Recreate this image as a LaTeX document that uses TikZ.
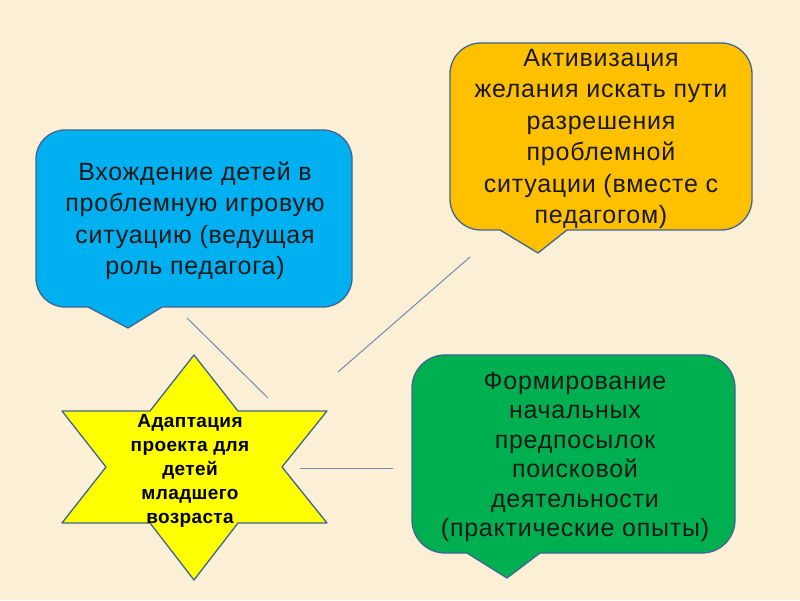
\documentclass[tikz,border=0pt]{standalone}
\usepackage{fontspec}
\setmainfont{Liberation Sans}
\definecolor{bgc}{RGB}{251,240,214}
\definecolor{bluef}{RGB}{0,176,240}
\definecolor{orangef}{RGB}{255,192,0}
\definecolor{greenf}{RGB}{0,176,80}
\definecolor{yellowf}{RGB}{255,255,0}
\definecolor{edgec}{RGB}{65,100,145}
\definecolor{linec}{RGB}{112,140,178}
\begin{document}
\begin{tikzpicture}[x=1pt,y=1pt,
  box/.style={draw=edgec,line width=1.3pt,line join=round},
  conn/.style={draw=linec,line width=1pt},
  bigtext/.style={align=center,font=\fontsize{25}{31.5}\selectfont\addfontfeature{LetterSpace=3},text=black!90,inner sep=0pt},
  greentext/.style={bigtext,font=\fontsize{25}{29.5}\selectfont\addfontfeature{LetterSpace=3}},
  startext/.style={align=center,font=\fontsize{19}{24}\selectfont\bfseries\addfontfeature{LetterSpace=2},text=black,inner sep=0pt}]
\fill[bgc] (0,0) rectangle (800,600);
\useasboundingbox (0,0) rectangle (800,600);
% blue callout
\draw[box,fill=bluef] (65,470) -- (323,470) arc[start angle=90,end angle=0,radius=29] -- (352,322) arc[start angle=0,end angle=-90,radius=29] -- (162,293) -- (128,272) -- (88,293) -- (65,293) arc[start angle=270,end angle=180,radius=29] -- (36,441) arc[start angle=180,end angle=90,radius=29] -- cycle;
% orange callout
\draw[box,fill=orangef] (481,557) -- (721,557) arc[start angle=90,end angle=0,radius=31] -- (752,401) arc[start angle=0,end angle=-90,radius=31] -- (567,370) -- (538,347) -- (500,370) -- (481,370) arc[start angle=270,end angle=180,radius=31] -- (450,526) arc[start angle=180,end angle=90,radius=31] -- cycle;
% green callout
\draw[box,fill=greenf] (445,245) -- (702,245) arc[start angle=90,end angle=0,radius=33] -- (735,80) arc[start angle=0,end angle=-90,radius=33] -- (540,47) -- (507,22) -- (467,47) -- (445,47) arc[start angle=270,end angle=180,radius=33] -- (412,212) arc[start angle=180,end angle=90,radius=33] -- cycle;
% star
\draw[box,fill=yellowf] (194,245) -- (238,189) -- (327,189) -- (282,133) -- (327,77) -- (238,77) -- (194,20) -- (150,77) -- (62,77) -- (106,133) -- (62,189) -- (150,189) -- cycle;
% texts
\node[bigtext] (tblue) at (195,379) {Вхождение детей в\\проблемную игровую\\ситуацию (ведущая\\роль педагога)};
\node[bigtext] (torange) at (601,461) {Активизация\\желания искать пути\\разрешения\\проблемной\\ситуации (вместе с\\педагогом)};
\node[greentext] (tgreen) at (575,143) {Формирование\\начальных\\предпосылок\\поисковой\\деятельности\\(практические опыты)};
\node[startext] (tstar) at (190,129) {Адаптация\\проекта для\\детей\\младшего\\возраста};
% connectors
\coordinate (a1) at (187,282);
\coordinate (a2) at (268,202);
\coordinate (b1) at (338,228);
\coordinate (b2) at (470,343);
\coordinate (c1) at (300,132);
\coordinate (c2) at (393,132);
\draw[conn] (a1) -- (a2);
\draw[conn] (b1) -- (b2);
\draw[conn] (c1) -- (c2);
\end{tikzpicture}
\end{document}
